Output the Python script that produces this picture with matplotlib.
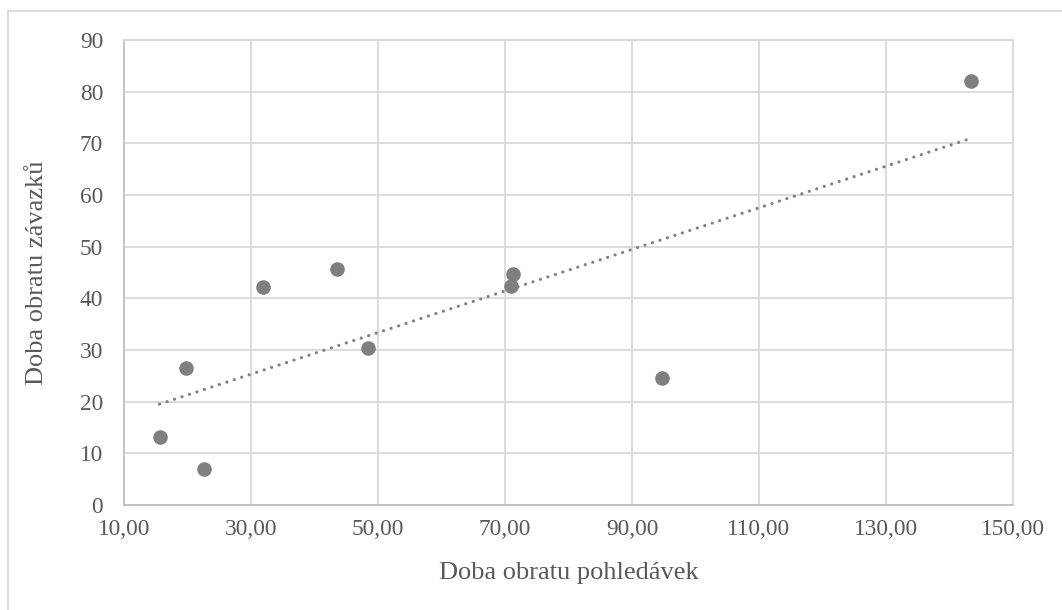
import matplotlib
matplotlib.use("Agg")
import matplotlib.pyplot as plt
from matplotlib.patches import Rectangle
from matplotlib.ticker import FuncFormatter
import numpy as np

# data
pohledavky = [15.6, 19.7, 22.6, 31.9, 43.5, 48.4, 70.9, 71.3, 94.7, 143.4]
zavazky = [13.1, 26.6, 7.0, 42.2, 45.6, 30.4, 42.4, 44.8, 24.6, 82.0]
x_ticks = [10, 30, 50, 70, 90, 110, 130, 150]
y_ticks = [0, 10, 20, 30, 40, 50, 60, 70, 80, 90]

plt.rcParams['font.family'] = ['Liberation Serif', 'DejaVu Serif']
seda = '#7f7f7f'
text_barva = '#595959'
mrizka = '#d9d9d9'

fig = plt.figure(figsize=(10.62, 6.10), dpi=100)
ax = fig.add_axes([124/1062, 1 - 505/610, (1013 - 124)/1062, (505 - 40)/610])

# outer chart border (left and top visible)
fig.patches.append(Rectangle((8/1062, -0.2), 1.2, 1 - 11/610 + 0.2,
                             transform=fig.transFigure, fill=False,
                             edgecolor=mrizka, linewidth=1.3, zorder=0))

ax.scatter(pohledavky, zavazky, s=110, color=seda, zorder=3, linewidths=0)

# linear trend line (Excel style, dotted)
k, q = np.polyfit(pohledavky, zavazky, 1)
xs = np.array([min(pohledavky), max(pohledavky)])
ax.plot(xs, k * xs + q, color=seda, linewidth=2.3,
        linestyle=(0, (0.01, 2.45)), dash_capstyle='round', zorder=2)

ax.set_xlim(10, 150)
ax.set_ylim(0, 90)
ax.set_xticks(x_ticks)
ax.set_yticks(y_ticks)
ax.xaxis.set_major_formatter(FuncFormatter(lambda v, p: f'{v:.2f}'.replace('.', ',')))
ax.grid(True, color=mrizka, linewidth=1.3, zorder=0)
ax.set_axisbelow(True)
for s in ['top', 'right']:
    ax.spines[s].set_color(mrizka)
    ax.spines[s].set_linewidth(1.3)
for s in ['left', 'bottom']:
    ax.spines[s].set_color('#bfbfbf')
    ax.spines[s].set_linewidth(1.3)

ax.tick_params(axis='both', length=0, labelsize=16.8, colors=text_barva)
ax.tick_params(axis='x', pad=10)
ax.tick_params(axis='y', pad=15)

ax.set_xlabel('Doba obratu pohledávek', fontsize=19, color=text_barva)
ax.set_ylabel('Doba obratu závazků', fontsize=19, color=text_barva)
ax.xaxis.set_label_coords(0.5, -0.123)
ax.yaxis.set_label_coords(-76/889, 0.5)

fig.savefig('out.png', dpi=100)
